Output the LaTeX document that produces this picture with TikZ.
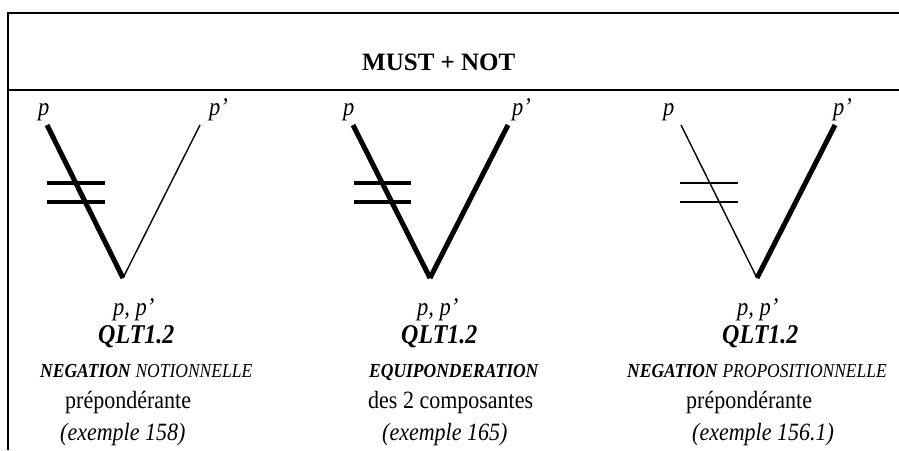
\documentclass[tikz,border=0pt]{standalone}
\usepackage{fontspec}
\setmainfont{Liberation Serif}
\newcommand{\tallr}[1]{\scalebox{1}[1.13]{#1}}
\begin{document}
\begin{tikzpicture}[x=1pt,y=-1pt,
  txt/.style={inner sep=0pt,anchor=base west},
  frame/.style={line width=1.5pt},
  thickleg/.style={line width=5pt},
  thinleg/.style={line width=1.4pt},
  thickbar/.style={line width=4pt},
  thinbar/.style={line width=1.4pt},
  lbl/.style={txt,font=\fontsize{22.5}{26}\selectfont\itshape},
  qlt/.style={txt,font=\fontsize{24}{28}\selectfont\bfseries\itshape},
  small/.style={txt,font=\fontsize{17.5}{20}\selectfont},
  body/.style={txt,font=\fontsize{22}{26}\selectfont}]
\useasboundingbox (0,0) rectangle (899,450);
% frame
\coordinate (fTL) at (8,13);
\coordinate (fTR) at (899,13);
\coordinate (fBL) at (8,450);
\coordinate (hL) at (8,90);
\coordinate (hR) at (899,90);
\draw[frame] (fBL) -- (fTL) -- (fTR);
\draw[frame] (hL) -- (hR);
\node[txt,font=\fontsize{25}{30}\selectfont\bfseries] (title) at (362,70) {MUST + NOT};

% ---------- column 1 ----------
\coordinate (a1) at (47,125);
\coordinate (v1) at (123,278);
\coordinate (b1) at (200,125);
\draw[thickleg] (a1) -- (v1);
\draw[thinleg] (v1) -- (b1);
\coordinate (b1s) at (47,183); \coordinate (b1e) at (105,183);
\coordinate (c1s) at (47,202); \coordinate (c1e) at (105,202);
\draw[thickbar] (b1s) -- (b1e);
\draw[thickbar] (c1s) -- (c1e);
\node[lbl] (p1) at (38,115) {\tallr{p}};
\node[lbl] (q1) at (209,115) {\tallr{p’}};
\node[lbl] (pp1) at (113,315) {\tallr{p, p’}};
\node[qlt] (qlt1) at (98,343) {\tallr{QLT1.2}};
\node[small] (neg1) at (40,377) {\tallr{\textbf{\itshape NEGATION} \itshape NOTIONNELLE}};
\node[body] (pr1) at (65,408) {\tallr{prépondérante}};
\node[body] (ex1) at (60,440) {\tallr{\itshape (exemple 158)}};

% ---------- column 2 ----------
\coordinate (a2) at (353,125);
\coordinate (v2) at (430,278);
\coordinate (b2) at (508,125);
\draw[thickleg] (a2) -- (v2);
\draw[thickleg] (v2) -- (b2);
\coordinate (b2s) at (354,183); \coordinate (b2e) at (411,183);
\coordinate (c2s) at (354,202); \coordinate (c2e) at (411,202);
\draw[thickbar] (b2s) -- (b2e);
\draw[thickbar] (c2s) -- (c2e);
\node[lbl] (p2) at (343,115) {\tallr{p}};
\node[lbl] (q2) at (512,115) {\tallr{p’}};
\node[lbl] (pp2) at (417,315) {\tallr{p, p’}};
\node[qlt] (qlt2) at (401,343) {\tallr{QLT1.2}};
\node[small] (neg2) at (369,377) {\tallr{\textbf{\itshape EQUIPONDERATION}}};
\node[body] (pr2) at (368,408) {\tallr{des 2 composantes}};
\node[body] (ex2) at (382,440) {\tallr{\itshape (exemple 165)}};

% ---------- column 3 ----------
\coordinate (a3) at (681,125);
\coordinate (v3) at (757,278);
\coordinate (b3) at (835,125);
\draw[thinleg] (a3) -- (v3);
\draw[thickleg] (v3) -- (b3);
\coordinate (b3s) at (680,183); \coordinate (b3e) at (738,183);
\coordinate (c3s) at (680,202); \coordinate (c3e) at (738,202);
\draw[thinbar] (b3s) -- (b3e);
\draw[thinbar] (c3s) -- (c3e);
\node[lbl] (p3) at (663,115) {\tallr{p}};
\node[lbl] (q3) at (833,115) {\tallr{p’}};
\node[lbl] (pp3) at (737,315) {\tallr{p, p’}};
\node[qlt] (qlt3) at (722,343) {\tallr{QLT1.2}};
\node[small] (neg3) at (627,377) {\tallr{\textbf{\itshape NEGATION} \itshape PROPOSITIONNELLE}};
\node[body] (pr3) at (686,408) {\tallr{prépondérante}};
\node[body] (ex3) at (692,440) {\tallr{\itshape (exemple 156.1)}};
\end{tikzpicture}
\end{document}
